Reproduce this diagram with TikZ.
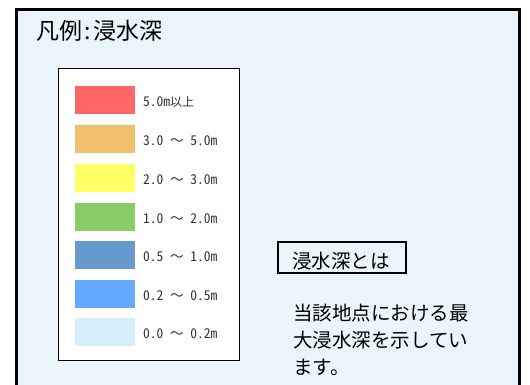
\documentclass[tikz,border=0pt]{standalone}
\usepackage{fontspec}
\newfontfamily\jp{Noto Sans CJK JP}
\newfontfamily\jph[CharacterWidth=Half]{Noto Sans CJK JP}
\newcommand{\wt}{{\jp ～}}
\definecolor{bgblue}{HTML}{EAF4FB}
\definecolor{cRed}{HTML}{FF6666}
\definecolor{cOrange}{HTML}{F0C06A}
\definecolor{cYellow}{HTML}{FFFF66}
\definecolor{cGreen}{HTML}{88CC66}
\definecolor{cSteel}{HTML}{6699CC}
\definecolor{cBlue}{HTML}{66AAFF}
\definecolor{cLight}{HTML}{D6EEFA}
\definecolor{lbltext}{HTML}{333333}
\begin{document}
\begin{tikzpicture}[x=1pt,y=-1pt,
  swatch/.style={minimum width=60pt, minimum height=28pt, inner sep=0pt, draw=none},
  lbl/.style={anchor=base west, inner sep=0pt, text=lbltext, font=\jph\fontsize{13.5}{14}\selectfont},
  bigtxt/.style={anchor=base west, inner sep=0pt, font=\jp\fontsize{19.5}{24}\selectfont},
  frame/.style={draw=black, line width=3pt, fill=bgblue},
  legendbox/.style={draw=black, line width=1pt, fill=white}
]
\useasboundingbox (0,0) rectangle (530,385);
% outer frame
\draw[frame] (16,9.5) rectangle (519.5,395);
% title
\node[anchor=base west, inner sep=0pt, font=\jp\fontsize{23}{26}\selectfont] (title) at (36,40) {凡例\hspace{2pt}:\hspace{3pt}浸水深};
% legend box
\draw[legendbox] (58,69) rectangle (239,360);
% swatches and labels
\foreach \c/\y/\t [count=\i] in {cRed/100/5.0m{\jp\fontsize{12}{12}\selectfont 以上}, cOrange/139/3.0 \wt{} 5.0m, cYellow/178/2.0 \wt{} 3.0m, cGreen/216.5/1.0 \wt{} 2.0m, cSteel/254.5/0.5 \wt{} 1.0m, cBlue/294/0.2 \wt{} 0.5m, cLight/332/0.0 \wt{} 0.2m}{
  \node[swatch, fill=\c] (sw\i) at (105,\y) {};
  \node[lbl] (lb\i) at (143,\y+6.5) {\t};
}
% definition box
\draw[line width=1.3pt, draw=black] (278,242) rectangle (406,273);
\node[bigtxt] (deftitle) at (292,268.5) {浸水深とは};
\node[bigtxt] (p1) at (293,320) {当該地点における最};
\node[bigtxt] (p2) at (293,347) {大浸水深を示してい};
\node[bigtxt] (p3) at (293,374) {ます。};
\end{tikzpicture}
\end{document}
